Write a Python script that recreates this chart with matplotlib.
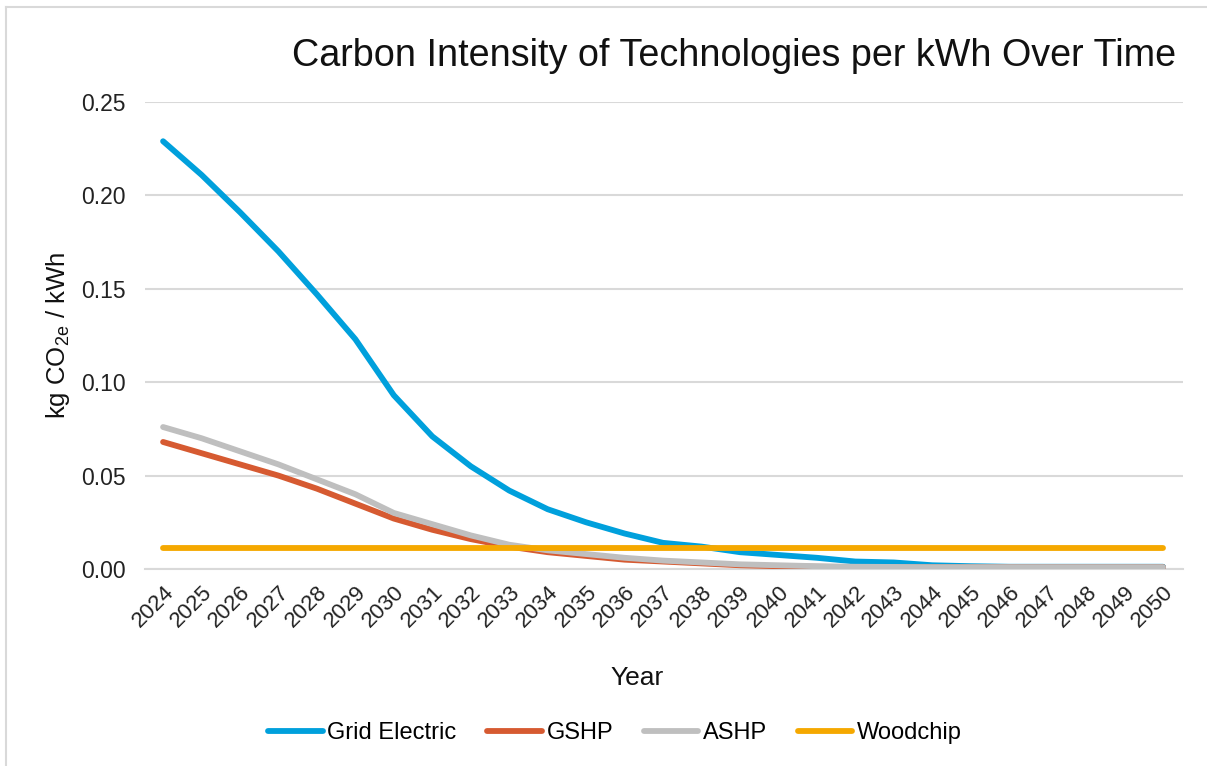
import matplotlib
matplotlib.use("Agg")
import matplotlib.pyplot as plt
from matplotlib.lines import Line2D

years = list(range(2024, 2051))
grid_electric = [0.229, 0.211, 0.191, 0.170, 0.147, 0.123, 0.093, 0.071, 0.055, 0.042,
                 0.032, 0.025, 0.019, 0.014, 0.012, 0.009, 0.0075, 0.006, 0.004, 0.0035,
                 0.002, 0.0015, 0.0012, 0.0012, 0.0012, 0.0012, 0.0012]
gshp = [0.068, 0.062, 0.056, 0.050, 0.043, 0.035, 0.027, 0.021, 0.016, 0.012,
        0.009, 0.007, 0.005, 0.004, 0.003, 0.002, 0.0015, 0.0012, 0.001, 0.001,
        0.001, 0.001, 0.001, 0.001, 0.001, 0.001, 0.001]
ashp = [0.076, 0.070, 0.063, 0.056, 0.048, 0.040, 0.030, 0.024, 0.018, 0.013,
        0.010, 0.008, 0.006, 0.0045, 0.0035, 0.0025, 0.002, 0.0015, 0.0012, 0.0011,
        0.001, 0.001, 0.001, 0.001, 0.001, 0.001, 0.001]
woodchip = [0.011] * 27
y_ticks = [0, 0.05, 0.10, 0.15, 0.20, 0.25]

series = [("Grid Electric", grid_electric, "#00a0dc"),
          ("GSHP", gshp, "#d65a31"),
          ("ASHP", ashp, "#bfbfbf"),
          ("Woodchip", woodchip, "#f5a800")]

plt.rcParams['font.family'] = ['Liberation Sans', 'DejaVu Sans']

W, H = 1207, 766
fig = plt.figure(figsize=(W / 100, H / 100), dpi=100)
ax = fig.add_axes([145 / W, 1 - 569 / H, (1183 - 145) / W, (569 - 102) / H])

x = list(range(len(years)))
for z, (name, vals, col) in enumerate(series):
    ax.plot(x, vals, color=col, lw=4.2, solid_capstyle='round', zorder=3 + z)

ax.set_xlim(-0.47, len(years) - 1 + 0.52)
ax.set_ylim(0, 0.25)
ax.set_yticks(y_ticks)
ax.set_yticklabels([f"{v:.2f}" for v in y_ticks], fontsize=16.5, color="#222222")
ax.set_xticks(x)
ax.set_xticklabels([str(y) for y in years], rotation=45, ha='right', va='top',
                   rotation_mode='anchor', fontsize=16, color="#222222")
ax.tick_params(axis='y', length=0, pad=14)
ax.tick_params(axis='x', length=0, pad=9)
ax.grid(axis='y', color='#d9d9d9', lw=1.5, zorder=0)
ax.set_axisbelow(True)
for s in ['top', 'right', 'left']:
    ax.spines[s].set_visible(False)
ax.spines['bottom'].set_color('#d9d9d9')
ax.spines['bottom'].set_linewidth(1.5)

fig.text(58 / W, 1 - 335 / H, r"kg CO$_{\mathregular{2e}}$ / kWh", rotation=90, ha='center', va='center',
         fontsize=18.5, color="#111111")
fig.text(637 / W, 1 - 678 / H, "Year", ha='center', va='center', fontsize=19, color="#111111")
fig.text(1176 / W, 1 - 56 / H, "Carbon Intensity of Technologies per kWh Over Time",
         ha='right', va='center', fontsize=27.2, color="#111111")

handles = [Line2D([0], [0], color=c, lw=4.2, solid_capstyle='round') for _, _, c in series]
fig.legend(handles, [n for n, _, _ in series], loc='center', bbox_to_anchor=(615 / W, 1 - 733 / H),
           ncol=4, frameon=False, fontsize=17, handlelength=2.3, columnspacing=1.3, handletextpad=0.2)

# chart border (top and left)
fig.add_artist(Line2D([6 / W, 1.0], [1 - 7 / H, 1 - 7 / H], color='#d9d9d9', lw=1.5, transform=fig.transFigure))
fig.add_artist(Line2D([6 / W, 6 / W], [0, 1 - 7 / H], color='#d9d9d9', lw=1.5, transform=fig.transFigure))

fig.savefig("out.png", dpi=100, facecolor='white')
